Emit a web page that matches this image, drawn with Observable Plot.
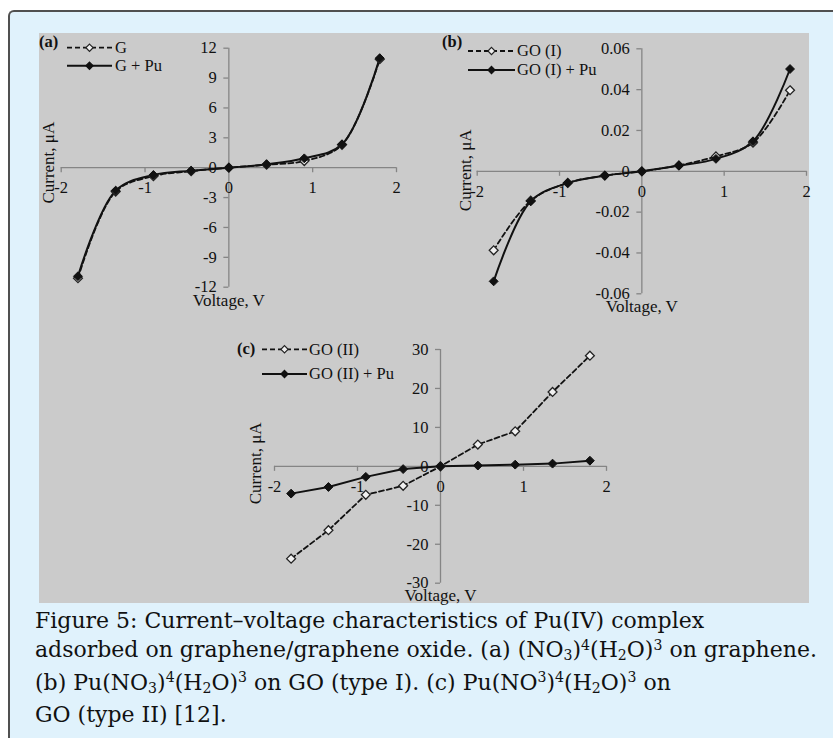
<!DOCTYPE html>
<html>
<head>
<meta charset="utf-8">
<script src="https://cdn.jsdelivr.net/npm/d3@7"></script>
<script src="https://cdn.jsdelivr.net/npm/@observablehq/plot@0.6"></script>
<style>
  html, body { margin: 0; padding: 0; background: #ffffff; }
  body { width: 833px; height: 738px; overflow: hidden; position: relative; }
  #card { position: absolute; left: 8px; top: 10px; width: 900px; height: 800px;
          background: rgb(224,242,252); border-left: 2px solid #505050; border-top: 2px solid #505050;
          border-top-left-radius: 6px; box-sizing: border-box; }
  #gray { position: absolute; left: 39px; top: 33px; width: 770px; height: 570px; background: #cbcbcb; }
  .plotbox { position: absolute; left: 0; top: 0; }
  .plotbox svg { overflow: visible; }
  #legend { position: absolute; left: 0; top: 0; }
  #caption { position: absolute; left: 35px; top: 606px; width: 800px; white-space: nowrap;
             font-family: "DejaVu Serif", serif; font-size: 22px; line-height: 29.3px; color: #111; }
  #caption sub, #caption sup { font-size: 0.64em; vertical-align: baseline; position: relative; }
  #caption sub { top: 0.22em; }
  #caption sup { top: -0.52em; }
</style>
</head>
<body>
<div id="card"></div>
<div id="gray"></div>
<div id="plots"></div>
<div id="caption">Figure 5: Current–voltage characteristics of Pu(IV) complex<br>adsorbed on graphene/graphene oxide. (a) (NO<sub>3</sub>)<sup>4</sup>(H<sub>2</sub>O)<sup>3</sup> on graphene.<br>(b) Pu(NO<sub>3</sub>)<sup>4</sup>(H<sub>2</sub>O)<sup>3</sup> on GO (type I). (c) Pu(NO<sup>3</sup>)<sup>4</sup>(H<sub>2</sub>O)<sup>3</sup> on<br>GO (type II) [12].</div>
<script>
// ---- data ----
const voltage = [-1.8, -1.35, -0.9, -0.45, 0, 0.45, 0.9, 1.35, 1.8];

const seriesA1 = [-11.1, -2.4, -0.85, -0.35, 0, 0.3, 0.67, 2.3, 10.9];     // G
const seriesA2 = [-10.9, -2.3, -0.73, -0.3, 0, 0.34, 0.94, 2.35, 11.0];    // G + Pu
const seriesB1 = [-0.0387, -0.0144, -0.0057, -0.0021, 0, 0.0029, 0.0073, 0.014, 0.0397];  // GO (I)
const seriesB2 = [-0.0539, -0.0147, -0.0057, -0.0021, 0, 0.0028, 0.0061, 0.0147, 0.0501]; // GO (I) + Pu
const seriesC1 = [-23.7, -16.4, -7.3, -5.0, 0, 5.6, 9.0, 19.1, 28.4];      // GO (II)
const seriesC2 = [-7.0, -5.3, -2.7, -0.7, 0, 0.2, 0.44, 0.7, 1.45];        // GO (II) + Pu

const xTicks = [-2, -1, 0, 1, 2];
const xTickLabels = ["-2", "-1", "0", "1", "2"];
const aTicks = [-12, -9, -6, -3, 0, 3, 6, 9, 12];
const aTickLabels = ["-12", "-9", "-6", "-3", "0", "3", "6", "9", "12"];
const bTicks = [-0.06, -0.04, -0.02, 0, 0.02, 0.04, 0.06];
const bTickLabels = ["-0.06", "-0.04", "-0.02", "0", "0.02", "0.04", "0.06"];
const cTicks = [-30, -20, -10, 0, 10, 20, 30];
const cTickLabels = ["-30", "-20", "-10", "0", "10", "20", "30"];

const legendA = ["G", "G + Pu"];
const legendB = ["GO (I)", "GO (I) + Pu"];
const legendC = ["GO (II)", "GO (II) + Pu"];

const xTitle = "Voltage, V";
const yTitle = "Current, μA";

// ---- drawing ----
const AXIS = "#858585";
const INK = "#111";
const FONT = "'Liberation Serif', 'Times New Roman', serif";

function panel(o) {
  const rows = voltage.map((v, i) => ({v, s1: o.s1[i], s2: o.s2[i]}));
  const T = {fill: INK, fontFamily: FONT, fontSize: 16.5};
  return Plot.plot({
    width: 833, height: 610,
    marginLeft: o.mL, marginRight: o.mR, marginTop: o.mT, marginBottom: o.mB,
    x: {domain: [-2, 2], axis: null},
    y: {domain: o.yDomain, axis: null},
    style: {background: "transparent", overflow: "visible", fontFamily: FONT, fontSize: "16.5px", color: INK},
    marks: [
      Plot.ruleY([0], {stroke: AXIS, strokeWidth: 1.3}),
      Plot.ruleX([0], {stroke: AXIS, strokeWidth: 1.3}),
      Plot.ruleX(xTicks, {x: d => d, y1: 0, y2: 0, insetBottom: -5, stroke: AXIS, strokeWidth: 1.3}),
      Plot.ruleY(o.yTicks, {y: d => d, x1: 0, x2: 0, insetLeft: -5, stroke: AXIS, strokeWidth: 1.3}),
      Plot.text(xTicks, {...T, x: d => d, y: 0, dy: 20, text: (d, i) => xTickLabels[i]}),
      Plot.text(o.yTicks, {...T, x: 0, y: d => d, dx: -12, textAnchor: "end", text: (d, i) => o.yLabels[i]}),
      Plot.line(rows, {x: "v", y: "s1", curve: o.curve, stroke: INK, strokeWidth: 1.8, strokeDasharray: "5,3"}),
      Plot.line(rows, {x: "v", y: "s2", curve: o.curve, stroke: INK, strokeWidth: 2}),
      Plot.dot(rows, {x: "v", y: "s1", symbol: "diamond2", r: 4, fill: "#f0f0f0", stroke: "#222", strokeWidth: 1.3}),
      Plot.dot(rows, {x: "v", y: "s2", symbol: "diamond2", r: 4, fill: INK, stroke: INK, strokeWidth: 1}),
      Plot.text([xTitle], {...T, fontSize: 17, x: 0, y: o.yDomain[0], lineAnchor: "top", dy: o.xtDy, text: d => d}),
      Plot.text([yTitle], {...T, fontSize: 17, x: -2, y: 0, rotate: -90, dx: o.ytDx, dy: o.ytDy, text: d => d})
    ]
  });
}

const plots = document.getElementById("plots");
const specs = [
  {mL: 60.7, mR: 833 - 396, mT: 47.7, mB: 610 - 286.7, yDomain: [-12, 12], yTicks: aTicks, yLabels: aTickLabels,
   s1: seriesA1, s2: seriesA2, curve: "catmull-rom", xtDy: 7, ytDx: -13, ytDy: -5},
  {mL: 476.7, mR: 833 - 806, mT: 48.3, mB: 610 - 293.3, yDomain: [-0.06, 0.06], yTicks: bTicks, yLabels: bTickLabels,
   s1: seriesB1, s2: seriesB2, curve: "catmull-rom", xtDy: 6.5, ytDx: -12, ytDy: -1},
  {mL: 274, mR: 833 - 606, mT: 349, mB: 610 - 582.7, yDomain: [-30, 30], yTicks: cTicks, yLabels: cTickLabels,
   s1: seriesC1, s2: seriesC2, curve: "linear", xtDy: 5.5, ytDx: -19, ytDy: -3}
];
for (const s of specs) {
  const box = document.createElement("div");
  box.className = "plotbox";
  box.appendChild(panel(s));
  plots.appendChild(box);
}

// ---- legends (plain SVG, not data) ----
const legendDefs = [
  {tag: "(a)", tagX: 39, tagY: 42, x1: 67, x2: 112, tx: 115, y1: 47.7, y2: 65.7, labels: legendA},
  {tag: "(b)", tagX: 442, tagY: 42, x1: 468, x2: 515, tx: 517, y1: 51, y2: 70, labels: legendB},
  {tag: "(c)", tagX: 237, tagY: 349, x1: 262, x2: 307, tx: 309, y1: 349.3, y2: 374, labels: legendC}
];
const svg = d3.select("body").append("svg").attr("id", "legend").attr("width", 833).attr("height", 738)
  .style("font-family", FONT).style("font-size", "16.5px").style("overflow", "visible");
function diamond(g, cx, cy, filled) {
  const r = 3.6;
  g.append("path").attr("d", `M${cx},${cy - r}L${cx + r},${cy}L${cx},${cy + r}L${cx - r},${cy}Z`)
    .attr("fill", filled ? INK : "#f0f0f0").attr("stroke", filled ? INK : "#222").attr("stroke-width", 1.2);
}
for (const L of legendDefs) {
  const g = svg.append("g");
  g.append("text").attr("x", L.tagX).attr("y", L.tagY).attr("dy", "0.32em").attr("font-weight", "bold").attr("fill", INK).text(L.tag);
  g.append("line").attr("x1", L.x1).attr("x2", L.x2).attr("y1", L.y1).attr("y2", L.y1)
    .attr("stroke", INK).attr("stroke-width", 1.8).attr("stroke-dasharray", "5,3");
  diamond(g, (L.x1 + L.x2) / 2, L.y1, false);
  g.append("text").attr("x", L.tx).attr("y", L.y1).attr("dy", "0.32em").attr("fill", INK).text(L.labels[0]);
  g.append("line").attr("x1", L.x1).attr("x2", L.x2).attr("y1", L.y2).attr("y2", L.y2)
    .attr("stroke", INK).attr("stroke-width", 2);
  diamond(g, (L.x1 + L.x2) / 2, L.y2, true);
  g.append("text").attr("x", L.tx).attr("y", L.y2).attr("dy", "0.32em").attr("fill", INK).text(L.labels[1]);
}
</script>
</body>
</html>
